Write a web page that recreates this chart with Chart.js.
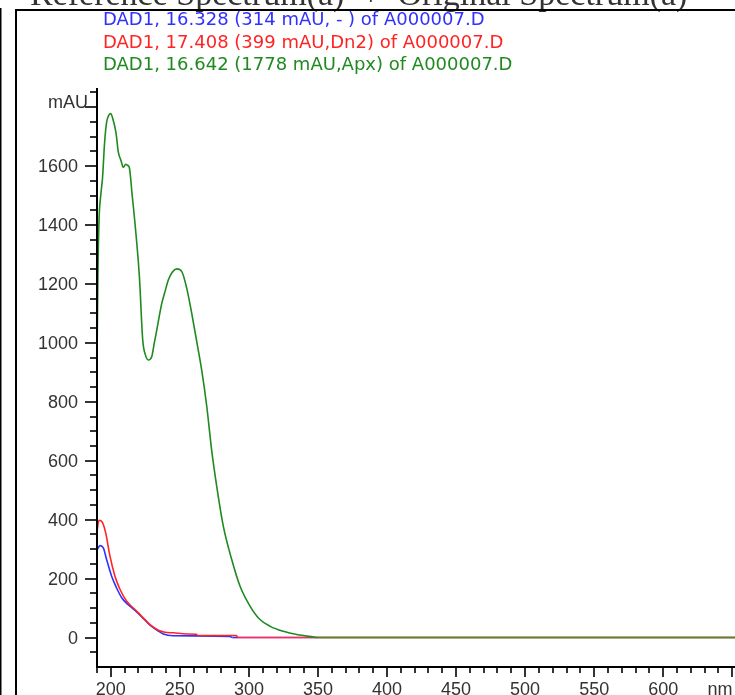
<!DOCTYPE html>
<html>
<head>
<meta charset="utf-8">
<script src="https://cdn.jsdelivr.net/npm/chart.js@4"></script>
<style>
  html, body { margin: 0; padding: 0; background: #fff; }
  canvas { display: block; }
</style>
</head>
<body>
<canvas id="spectra" width="735" height="695"></canvas>
<script>
// wavelengths (nm) and absorbance (mAU)
const greenNm = [190, 190.7, 191.5, 192.7, 194, 195.5, 197, 198.5, 199.9, 201.5, 203.8, 205.4, 207.3, 209, 210.8, 212, 213.4, 215.5, 217.5, 220.7, 223.1, 225, 227.2, 229.6, 231.5, 233.3, 236.9, 239, 241.7, 244.5, 247.7, 251.4, 255, 258.6, 262.2, 265.9, 269.5, 273, 276.7, 281.5, 287.6, 293.6, 300.9, 308, 315.4, 325, 334.7, 346.7, 350, 652];
const greenMau = [930, 1250, 1420, 1500, 1560, 1680, 1750, 1772, 1778, 1760, 1712, 1648, 1620, 1596, 1606, 1603, 1595, 1500, 1406, 1225, 1010, 960, 942, 953, 1000, 1044, 1134, 1170, 1214, 1240, 1251, 1242, 1185, 1100, 1005, 905, 784, 637, 513, 377, 264, 174, 106, 61, 38, 21, 10, 2, 0, 0];

const redNm = [190, 191.4, 193.9, 196.3, 199.4, 203, 206.7, 211.5, 217.5, 222.4, 228.4, 234.4, 239.3, 245.3, 255, 262, 263, 291, 292, 350, 652];
const redMau = [360, 398, 391, 355, 276, 208, 163, 123, 95, 72, 44, 25, 18, 16, 12, 11, 7, 7, 0, 0, 0];

const blueNm = [190, 192.2, 194.6, 197, 200.6, 204.2, 207.9, 211.5, 217.5, 222.4, 228.4, 234.4, 238, 245, 286, 288, 292, 350, 652];
const blueMau = [298, 312, 304, 264, 208, 168, 135, 116, 92, 70, 42, 22, 12, 6, 4, 0, 0, 0, 0];

const seriesLabels = [
  'DAD1, 16.328 (314 mAU, - ) of A000007.D',
  'DAD1, 17.408 (399 mAU,Dn2) of A000007.D',
  'DAD1, 16.642 (1778 mAU,Apx) of A000007.D'
];

const yLabelValues = [0, 200, 400, 600, 800, 1000, 1200, 1400, 1600];
const xLabelValues = [200, 250, 300, 350, 400, 450, 500, 550, 600];

const BLUE = '#3030ff';
const RED = '#ff2424';
const GREEN = '#1f8a1f';
const OLIVE = '#6b7a35'; // where all three baselines overlap
const PINK = '#e8336a';  // red over blue on the baseline

const toPoints = (xs, ys) => xs.map((v, i) => ({ x: v, y: ys[i] }));
const flatAtZero = c => c.p0.parsed && c.p1.parsed && c.p0.parsed.y === 0 && c.p1.parsed.y === 0;
const baselineColor = below => c => {
  if (!flatAtZero(c)) return undefined;
  const nm = c.p0.parsed.x;
  if (nm >= 350) return OLIVE;
  if (nm >= 292) return PINK;
  return below;
};

const hpAxes = {
  id: 'hpAxes',
  afterDraw(chart) {
    const { ctx, chartArea } = chart;
    const x = chart.scales.x;
    const y = chart.scales.y;
    const left = chartArea.left, bottom = chartArea.bottom;
    ctx.save();

    // cut-off title of the panel above
    ctx.fillStyle = '#333';
    ctx.font = '34px "Liberation Serif"';
    ctx.textBaseline = 'alphabetic';
    ctx.textAlign = 'left';
    ctx.fillText('Reference Spectrum(a)  +  Original Spectrum(a)', 30, 5);

    // frame lines
    ctx.strokeStyle = '#000';
    ctx.lineWidth = 2;
    ctx.beginPath();
    ctx.moveTo(16, 695); ctx.lineTo(16, 10); ctx.lineTo(735, 10);
    ctx.stroke();
    ctx.lineWidth = 1.5;
    ctx.beginPath();
    ctx.moveTo(0.75, 8); ctx.lineTo(0.75, 695);
    ctx.stroke();

    // axis lines
    ctx.lineWidth = 2;
    ctx.beginPath();
    ctx.moveTo(left, chartArea.top);
    ctx.lineTo(left, bottom);
    ctx.lineTo(chartArea.right, bottom);
    ctx.stroke();

    // y ticks every 50, long ones every 200
    ctx.lineWidth = 1.6;
    for (let v = -50; v <= 1850; v += 50) {
      const py = Math.round(y.getPixelForValue(v));
      const major = v % 200 === 0;
      ctx.beginPath();
      ctx.moveTo(left - (major ? 12 : 7), py);
      ctx.lineTo(left, py);
      ctx.stroke();
    }
    // x ticks every 10, long ones every 50
    for (let v = 190; v <= 650; v += 10) {
      const px = Math.round(x.getPixelForValue(v));
      const major = v % 50 === 0;
      ctx.beginPath();
      ctx.moveTo(px, bottom);
      ctx.lineTo(px, bottom + (major ? 10 : 6));
      ctx.stroke();
    }

    // tick labels
    ctx.fillStyle = '#333';
    ctx.font = '18px "Liberation Sans"';
    ctx.textAlign = 'right';
    ctx.textBaseline = 'middle';
    yLabelValues.forEach(v => ctx.fillText(String(v), left - 19, y.getPixelForValue(v) + 1));
    ctx.fillText('mAU', left - 9, y.getPixelForValue(1800) - 4);
    ctx.textAlign = 'center';
    ctx.textBaseline = 'top';
    xLabelValues.forEach(v => ctx.fillText(String(v), x.getPixelForValue(v), bottom + 14));
    ctx.fillText('nm', 720, bottom + 14);

    // series labels
    ctx.font = '18px "DejaVu Sans"';
    ctx.textAlign = 'left';
    ctx.textBaseline = 'alphabetic';
    [BLUE, RED, GREEN].forEach((c, i) => {
      ctx.fillStyle = c;
      ctx.fillText(seriesLabels[i], 103, 25 + i * 22.5);
    });

    ctx.restore();
  }
};

new Chart(document.getElementById('spectra'), {
  type: 'line',
  data: {
    datasets: [
      {
        label: seriesLabels[2],
        data: toPoints(greenNm, greenMau),
        borderColor: GREEN,
        order: 0,
        segment: { borderColor: baselineColor(OLIVE) }
      },
      {
        label: seriesLabels[1],
        data: toPoints(redNm, redMau),
        borderColor: RED,
        order: 1,
        segment: { borderColor: baselineColor(PINK) }
      },
      {
        label: seriesLabels[0],
        data: toPoints(blueNm, blueMau),
        borderColor: BLUE,
        order: 2,
        segment: { borderColor: baselineColor(BLUE) }
      }
    ]
  },
  options: {
    responsive: false,
    animation: false,
    layout: { padding: { left: 97, top: 88, right: 0, bottom: 28 } },
    elements: {
      point: { radius: 0 },
      line: { borderWidth: 1.6, cubicInterpolationMode: 'monotone', fill: false }
    },
    plugins: {
      legend: { display: false },
      tooltip: { enabled: false }
    },
    scales: {
      x: { type: 'linear', min: 190, max: 652, display: false },
      y: { type: 'linear', min: -100, max: 1865, display: false }
    }
  },
  plugins: [hpAxes]
});
</script>
</body>
</html>
